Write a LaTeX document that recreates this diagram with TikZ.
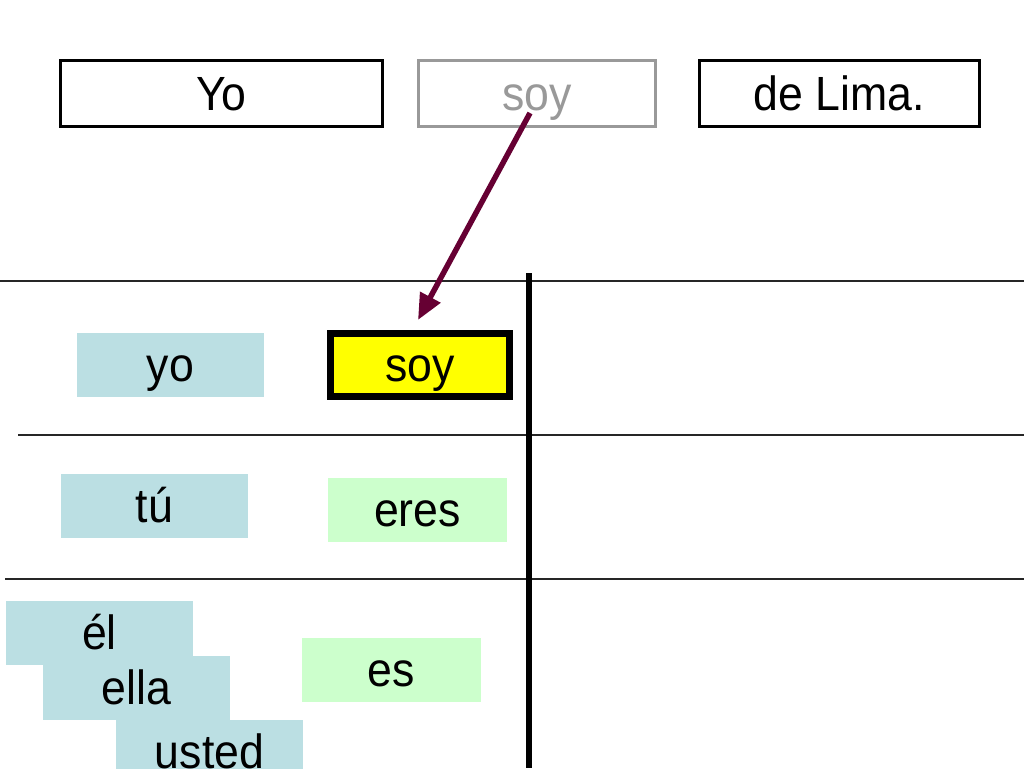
\documentclass[tikz,border=0pt]{standalone}
\usepackage{fontspec}
\setmainfont[FakeStretch=0.93]{Liberation Sans}
\usetikzlibrary{arrows.meta,calc}
\definecolor{pblue}{HTML}{BBDFE3}
\definecolor{pgreen}{HTML}{CCFFCC}
\definecolor{pyellow}{HTML}{FFFF00}
\definecolor{pgray}{HTML}{999999}
\definecolor{parrow}{HTML}{660033}
\begin{document}
\begin{tikzpicture}[x=1pt,y=-1pt,
  every node/.style={inner sep=0pt, font=\fontsize{48}{58}\selectfont, text height=43.4pt, text depth=10.2pt},
  topbox/.style={draw=black, line width=3pt, fill=white, minimum height=66pt},
  graybox/.style={draw=pgray, line width=3pt, fill=white, minimum height=66pt, text=pgray},
  pron/.style={fill=pblue, minimum width=187pt, minimum height=64pt},
  verb/.style={fill=pgreen, minimum width=179pt, minimum height=64pt},
  chosen/.style={draw=black, line width=7pt, fill=pyellow, minimum width=179pt, minimum height=63pt},
  hline/.style={line width=1.3pt, black!85},
  vline/.style={line width=6pt, black},
  arr/.style={draw=parrow, line width=5.5pt, -{Triangle[length=26pt,width=22pt]}}]
\clip (0,0) rectangle (1024,768);
\fill[white] (0,0) rectangle (1024,768);
% top sentence
\node[topbox, minimum width=322pt] (yo1) at (221.5,93.5) {Yo};
\node[graybox, minimum width=237pt] (soy1) at (537,93.5) {soy};
\node[topbox, minimum width=280pt] (lima) at (839.5,93.5) {de Lima.};
% table lines
\draw[hline] (0,281) -- (1024,281);
\draw[hline] (18,435) -- (1024,435);
\draw[hline] (5,579) -- (1024,579);
\draw[vline] (529,273) -- (529,768);
% pronouns
\node[pron] (yo) at (170.5,365) {yo};
\node[pron] (tu) at (154.5,506) {tú};
\node[pron] (el) at (99.5,633) {él};
\node[pron] (ella) at (136.5,688) {ella};
\node[pron] (usted) at (209.5,752) {usted};
% verbs
\node[chosen] (soy) at (420,365) {soy};
\node[verb] (eres) at (417.5,510) {eres};
\node[verb] (es) at (391.5,670) {es};
% arrow
\coordinate (astart) at ($(soy1.center)+(-7,19.5)$);
\coordinate (aend) at ($(soy.north)+(-2,-10)$);
\draw[arr] (astart) -- (aend);
\end{tikzpicture}
\end{document}
